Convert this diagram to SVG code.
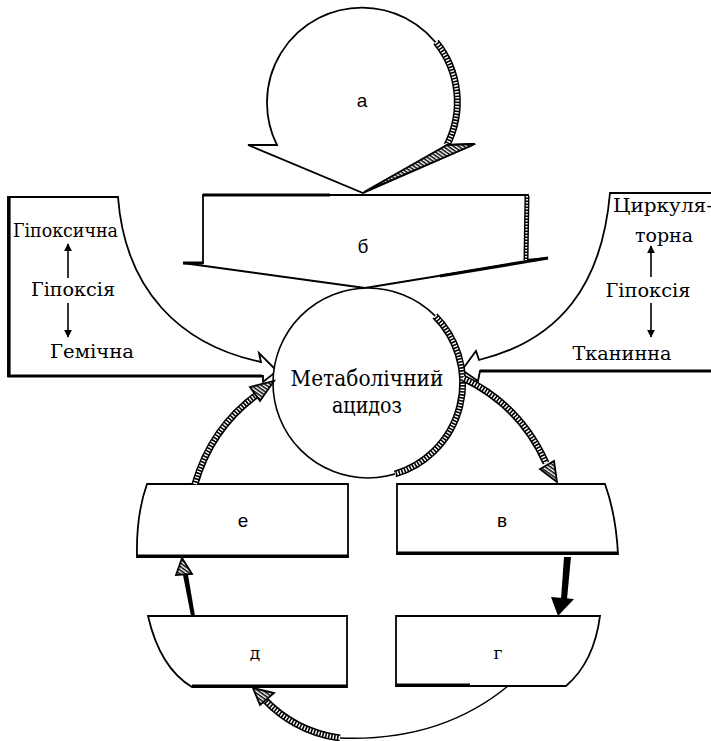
<svg xmlns="http://www.w3.org/2000/svg" xmlns:xlink="http://www.w3.org/1999/xlink" width="711" height="741" viewBox="0 0 711 741">
  <style>
    .ln { fill: none; stroke: #000; stroke-width: 1.6; stroke-linejoin: round; }
    .shape { fill: #fff; stroke: #000; stroke-width: 1.8; stroke-linejoin: miter; }
    .thick { fill: none; stroke: #000; stroke-width: 3.2; }
    .hb { fill: none; stroke: #000; stroke-width: 7; }
    .hw { fill: none; stroke: #fff; stroke-width: 4; stroke-dasharray: 1.4 1.6; }
    .hatchfill { fill: url(#hatch); stroke: #000; stroke-width: 1.8; stroke-linejoin: miter; }
    .serif { font-family: 'DejaVu Serif', 'Liberation Serif', serif; fill: #000; }
    .sans { font-family: 'Liberation Sans', 'DejaVu Sans', sans-serif; fill: #000; }
    .big { font-size: 23px; }
    .mid { font-size: 18px; }
    .lbl { font-size: 19px; }
    .lbls { font-size: 17px; }
  </style>
  <defs>
    <pattern id="hatch" width="3" height="3" patternUnits="userSpaceOnUse" patternTransform="rotate(35)">
      <rect width="3" height="3" fill="#fff"/>
      <rect width="3" height="1.5" fill="#000"/>
    </pattern>
    <marker id="tri" viewBox="0 0 10 10" refX="9" refY="5" markerWidth="8" markerHeight="8" markerUnits="userSpaceOnUse" orient="auto">
      <path d="M0,0 L10,5 L0,10 Z" fill="#000"/>
    </marker>
    <path id="arcA" d="M 436,42 A 95 95 0 0 1 447,145"/>
    <path id="arcM" d="M 435,316 A 95 95 0 0 1 395,474"/>
    <path id="edgeB" d="M 527,196 L 526,260"/>
    <path id="pE" d="M 195,484 Q 212,425 262,391"/>
    <path id="pV" d="M 463,378 Q 520,405 546,463"/>
    <path id="pG" d="M 340,738 Q 295,732 263,698"/>
  </defs>

  <!-- circular arrow a -->
  <g id="node-a">
    <path class="shape" d="M 277,145 A 95 95 0 1 1 447,145 L 475,144 L 363,193 L 248,145 Z"/>
    <use xlink:href="#arcA" class="hb"/>
    <use xlink:href="#arcA" class="hw"/>
    <path class="hatchfill" d="M 447,145 L 475,144 L 364,192 Z"/>
    <text class="sans lbl" x="362" y="107" text-anchor="middle">а</text>
  </g>

  <!-- box b with a chevron bottom -->
  <g id="node-b">
    <path class="shape" d="M 203,195 L 528,195 L 526,260 L 548,258 L 365,288 L 183,263 L 203,263 Z"/>
    <path class="thick" d="M 203,195 H 330 M 183,263 H 203 M 548,258 L 440,276"/>
    <use xlink:href="#edgeB" class="hb" style="stroke-width:5"/>
    <use xlink:href="#edgeB" class="hw" style="stroke-width:2"/>
    <text class="sans lbl" x="363" y="253" text-anchor="middle">б</text>
  </g>

  <!-- hypoxia block arrow, left -->
  <g id="node-hypoxia-left">
    <path class="shape" d="M 118,197 H 8 V 376 H 263 V 382 L 277,371 L 259,353 L 261,362 C 180,345 125,290 118,197 Z"/>
    <path class="thick" d="M 9,197 V 376 H 262"/>
    <text class="serif mid" x="13" y="237" textLength="105" lengthAdjust="spacingAndGlyphs">Гіпоксична</text>
    <text class="serif mid" x="73" y="296" text-anchor="middle" textLength="84" lengthAdjust="spacingAndGlyphs">Гіпоксія</text>
    <text class="serif mid" x="92" y="358" text-anchor="middle" textLength="84" lengthAdjust="spacingAndGlyphs">Гемічна</text>
    <line class="ln" x1="68" y1="278" x2="68" y2="244" marker-end="url(#tri)"/>
    <line class="ln" x1="68" y1="303" x2="68" y2="337" marker-end="url(#tri)"/>
  </g>

  <!-- hypoxia block arrow, right -->
  <g id="node-hypoxia-right">
    <path class="shape" d="M 711,193 H 610 C 602,285 560,340 479,360 L 476,351 L 462,370 L 478,381 L 480,371 H 711"/>
    <path class="thick" d="M 480,371 H 711"/>
    <text class="serif mid" x="613" y="212" textLength="100" lengthAdjust="spacingAndGlyphs">Циркуля-</text>
    <text class="serif mid" x="664" y="242" text-anchor="middle" textLength="58" lengthAdjust="spacingAndGlyphs">торна</text>
    <text class="serif mid" x="648" y="297" text-anchor="middle" textLength="85" lengthAdjust="spacingAndGlyphs">Гіпоксія</text>
    <text class="serif mid" x="622" y="360" text-anchor="middle" textLength="99" lengthAdjust="spacingAndGlyphs">Тканинна</text>
    <line class="ln" x1="651" y1="277" x2="651" y2="246" marker-end="url(#tri)"/>
    <line class="ln" x1="651" y1="303" x2="651" y2="337" marker-end="url(#tri)"/>
  </g>

  <!-- metabolic acidosis -->
  <g id="node-acidosis">
    <circle cx="368" cy="383" r="95" fill="#fff" stroke="#000" stroke-width="1.6"/>
    <use xlink:href="#arcM" class="hb"/>
    <use xlink:href="#arcM" class="hw"/>
    <text class="serif big" x="367" y="386" text-anchor="middle" textLength="153" lengthAdjust="spacingAndGlyphs">Метаболічний</text>
    <text class="serif big" x="367" y="413" text-anchor="middle" textLength="70" lengthAdjust="spacingAndGlyphs">ацидоз</text>
  </g>

  <g id="node-e">
    <path class="shape" d="M 147,484 H 348 V 557 H 137 Q 136,515 147,484 Z"/>
    <path class="thick" d="M 137,556 H 348"/>
    <text class="sans lbl" x="243" y="527" text-anchor="middle">е</text>
  </g>

  <g id="node-v">
    <path class="shape" d="M 397,484 H 605 Q 616,515 618,554 H 397 Z"/>
    <path class="thick" d="M 397,553 H 618"/>
    <text class="sans lbl" x="502" y="527" text-anchor="middle">в</text>
  </g>

  <g id="node-d">
    <path class="shape" d="M 148,616 H 347 V 687 H 192 Q 160,668 148,616 Z"/>
    <path class="thick" d="M 192,686 H 347"/>
    <text class="serif lbls" x="255" y="659" text-anchor="middle">д</text>
  </g>

  <g id="node-g">
    <path class="shape" d="M 396,616 H 600 Q 594,662 566,686 H 396 Z"/>
    <path class="thick" d="M 396,685 H 470"/>
    <text class="serif lbls" x="498" y="659" text-anchor="middle">г</text>
  </g>

  <g id="connectors">
    <!-- е to acidosis -->
    <use xlink:href="#pE" class="hb"/>
    <use xlink:href="#pE" class="hw"/>
    <path class="hatchfill" d="M 274,381 L 260,401 L 250,387 Z"/>

    <!-- acidosis to в -->
    <use xlink:href="#pV" class="hb"/>
    <use xlink:href="#pV" class="hw"/>
    <path class="hatchfill" d="M 557,482 L 540,469 L 554,461 Z"/>

    <!-- в to г -->
    <path d="M 564,557 L 571,557 L 567,599 L 561,599 Z" fill="#000"/>
    <path d="M 551,597 L 574,599 L 558,616 Z" fill="#000"/>

    <!-- г to д -->
    <path class="ln" d="M 508,686 Q 440,742 340,738"/>
    <use xlink:href="#pG" class="hb"/>
    <use xlink:href="#pG" class="hw"/>
    <path class="hatchfill" d="M 253,688 L 274,693 L 260,705 Z"/>

    <!-- д to е -->
    <path d="M 191,616 L 195,616 L 188,575 L 183,575 Z" fill="#000"/>
    <path class="hatchfill" d="M 182,558 L 192,574 L 176,575 Z"/>
  </g>
</svg>
